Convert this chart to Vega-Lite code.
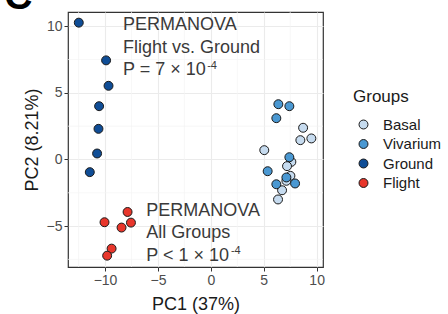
{
  "$schema": "https://vega.github.io/schema/vega-lite/v6.json",
  "width": 255,
  "height": 255,
  "autosize": "none",
  "padding": {"left": 68, "top": 12, "right": 125, "bottom": 47},
  "background": "white",
  "config": {
    "font": "Liberation Sans",
    "view": {"stroke": "#333333", "strokeWidth": 1.2}
  },
  "datasets": {
    "pts": [
      {"PC1": -12.48, "PC2": 10.27, "Group": "Ground"},
      {"PC1": -9.9, "PC2": 7.44, "Group": "Ground"},
      {"PC1": -9.67, "PC2": 5.53, "Group": "Ground"},
      {"PC1": -10.56, "PC2": 4.0, "Group": "Ground"},
      {"PC1": -10.62, "PC2": 2.3, "Group": "Ground"},
      {"PC1": -10.75, "PC2": 0.45, "Group": "Ground"},
      {"PC1": -11.44, "PC2": -0.95, "Group": "Ground"},
      {"PC1": -10.05, "PC2": -4.71, "Group": "Flight"},
      {"PC1": -7.87, "PC2": -3.94, "Group": "Flight"},
      {"PC1": -7.55, "PC2": -4.74, "Group": "Flight"},
      {"PC1": -8.44, "PC2": -5.11, "Group": "Flight"},
      {"PC1": -9.38, "PC2": -6.69, "Group": "Flight"},
      {"PC1": -9.8, "PC2": -7.22, "Group": "Flight"},
      {"PC1": 8.72, "PC2": 2.38, "Group": "Basal"},
      {"PC1": 8.46, "PC2": 1.45, "Group": "Basal"},
      {"PC1": 9.5, "PC2": 1.58, "Group": "Basal"},
      {"PC1": 5.05, "PC2": 0.7, "Group": "Basal"},
      {"PC1": 7.61, "PC2": -0.18, "Group": "Basal"},
      {"PC1": 7.2, "PC2": -0.5, "Group": "Basal"},
      {"PC1": 7.52, "PC2": -1.23, "Group": "Basal"},
      {"PC1": 7.14, "PC2": -1.6, "Group": "Basal"},
      {"PC1": 6.73, "PC2": -2.31, "Group": "Basal"},
      {"PC1": 6.35, "PC2": -3.0, "Group": "Basal"},
      {"PC1": 6.38, "PC2": 4.15, "Group": "Vivarium"},
      {"PC1": 7.42, "PC2": 4.0, "Group": "Vivarium"},
      {"PC1": 6.19, "PC2": 3.1, "Group": "Vivarium"},
      {"PC1": 7.42, "PC2": 0.17, "Group": "Vivarium"},
      {"PC1": 5.37, "PC2": -0.88, "Group": "Vivarium"},
      {"PC1": 6.19, "PC2": -1.86, "Group": "Vivarium"},
      {"PC1": 7.14, "PC2": -1.35, "Group": "Vivarium"},
      {"PC1": 7.96, "PC2": -1.8, "Group": "Vivarium"}
    ],
    "notes": [
      {"x": -8.3, "y": 10.1, "label": "PERMANOVA", "size": 18},
      {"x": -8.3, "y": 8.4, "label": "Flight vs. Ground", "size": 18},
      {"x": -8.3, "y": 6.7, "label": "P = 7 × 10", "size": 18},
      {"x": -0.35, "y": 7.05, "label": "-4", "size": 11},
      {"x": -6.1, "y": -3.85, "label": "PERMANOVA", "size": 18},
      {"x": -6.1, "y": -5.55, "label": "All Groups", "size": 18},
      {"x": -6.1, "y": -7.25, "label": "P < 1 × 10", "size": 18},
      {"x": 1.9, "y": -6.9, "label": "-4", "size": 11}
    ],
    "minorx": [{"v": -12.5}, {"v": -7.5}, {"v": -2.5}, {"v": 2.5}, {"v": 7.5}],
    "minory": [{"v": -7.5}, {"v": -2.5}, {"v": 2.5}, {"v": 7.5}],
    "tag": [
      {"x": -18.2, "y": 11.32, "label": "C"}
    ]
  },
  "layer": [
    {
      "data": {"name": "minorx"},
      "mark": {"type": "rule", "color": "#f3f3f3", "strokeWidth": 0.7},
      "encoding": {"x": {"field": "v", "type": "quantitative"}}
    },
    {
      "data": {"name": "minory"},
      "mark": {"type": "rule", "color": "#f3f3f3", "strokeWidth": 0.7},
      "encoding": {"y": {"field": "v", "type": "quantitative"}}
    },
    {
      "data": {"name": "pts"},
      "mark": {"type": "point", "filled": true, "shape": "circle", "size": 80, "stroke": "#1a1a1a", "strokeWidth": 1, "opacity": 1},
      "encoding": {
        "x": {
          "field": "PC1", "type": "quantitative",
          "scale": {"domain": [-13.5, 10.6], "nice": false, "zero": false},
          "axis": {
            "title": "PC1 (37%)",
            "values": [-10, -5, 0, 5, 10],
            "domain": false,
            "grid": true,
            "gridColor": "#ebebeb",
            "gridWidth": 1.1,
            "tickColor": "#333333",
            "tickSize": 4,
            "tickWidth": 1,
            "labelFontSize": 14,
            "labelColor": "#4d4d4d",
            "labelPadding": 2,
            "titleFontSize": 18,
            "titleFontWeight": "normal",
            "titleColor": "#1a1a1a",
            "titlePadding": 8
          }
        },
        "y": {
          "field": "PC2", "type": "quantitative",
          "scale": {"domain": [-8.07, 11.07], "nice": false, "zero": false},
          "axis": {
            "title": "PC2 (8.21%)",
            "values": [-5, 0, 5, 10],
            "domain": false,
            "grid": true,
            "gridColor": "#ebebeb",
            "gridWidth": 1.1,
            "tickColor": "#333333",
            "tickSize": 4,
            "tickWidth": 1,
            "labelFontSize": 14,
            "labelColor": "#4d4d4d",
            "labelPadding": 2,
            "titleFontSize": 18,
            "titleFontWeight": "normal",
            "titleColor": "#1a1a1a",
            "titlePadding": 5
          }
        },
        "fill": {
          "field": "Group", "type": "nominal",
          "scale": {"domain": ["Basal", "Vivarium", "Ground", "Flight"], "range": ["#c6dbef", "#4a98d2", "#0f4d96", "#e8362b"]},
          "legend": {
            "title": "Groups",
            "orient": "none",
            "legendX": 285,
            "legendY": 77,
            "titleFontSize": 17,
            "titleFontWeight": "normal",
            "titleColor": "#1a1a1a",
            "titlePadding": 11,
            "labelFontSize": 15,
            "labelColor": "#1a1a1a",
            "labelOffset": 12,
            "rowPadding": 3.5,
            "symbolType": "circle",
            "symbolSize": 80,
            "symbolStrokeColor": "#1a1a1a",
            "symbolStrokeWidth": 1,
            "symbolOffset": 3
          }
        }
      }
    },
    {
      "data": {"name": "notes"},
      "mark": {"type": "text", "align": "left", "baseline": "middle", "color": "#3a3a3a", "clip": false},
      "encoding": {
        "x": {"field": "x", "type": "quantitative"},
        "y": {"field": "y", "type": "quantitative"},
        "text": {"field": "label", "type": "nominal"},
        "size": {"field": "size", "type": "quantitative", "scale": null, "legend": null}
      }
    },
    {
      "data": {"name": "tag"},
      "mark": {"type": "text", "align": "center", "baseline": "alphabetic", "color": "#000000", "fontSize": 39, "fontWeight": "bold", "clip": false},
      "encoding": {
        "x": {"field": "x", "type": "quantitative"},
        "y": {"field": "y", "type": "quantitative"},
        "text": {"field": "label", "type": "nominal"}
      }
    }
  ]
}
